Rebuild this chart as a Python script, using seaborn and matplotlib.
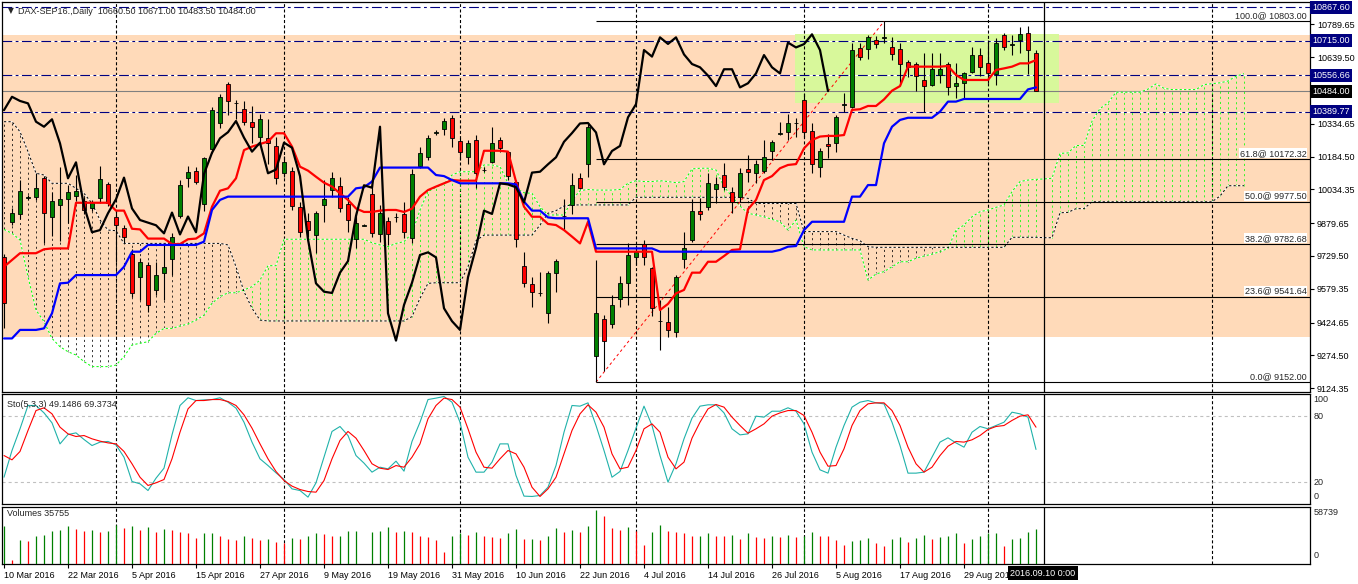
import numpy as np
import pandas as pd
import seaborn as sns
import matplotlib
matplotlib.use("Agg")
import matplotlib.pyplot as plt
import matplotlib.transforms as mtrans
from matplotlib.patches import Rectangle

# DAX-SEP16 daily bars, 10 Mar 2016 .. 9 Sep 2016
opens = [9726, 9886, 9921, 9996, 9998, 10088, 9906, 9961, 9989, 10005,
         9980, 9947, 9993, 10059, 9909, 9859, 9737, 9632, 9686, 9572,
         9650, 9716, 9912, 10085, 10120, 9967, 10217, 10336, 10515, 10430,
         10400, 10344, 10275, 10268, 10234, 10108, 10120, 9955, 9889, 9825,
         9963, 10031, 10051, 9966, 9805, 9868, 10011, 9828, 9889, 9908,
         9920, 9810, 10143, 10181, 10292, 10310, 10359, 10257, 10181, 10258,
         10123, 10161, 10258, 10204, 10069, 9685, 9602, 9562, 9467, 9650,
         9911, 9963, 10088, 10149, 9272, 9439, 9418, 9531, 9604, 9723,
         9783, 9676, 9433, 9426, 9380, 9714, 9803, 9935, 9952, 10034,
         10100, 10024, 10001, 10126, 10108, 10120, 10211, 10290, 10295, 10336,
         10443, 10301, 10135, 10242, 10245, 10422, 10413, 10683, 10675, 10718,
         10728, 10687, 10675, 10616, 10606, 10535, 10512, 10558, 10608, 10507,
         10520, 10573, 10649, 10611, 10562, 10741, 10697, 10718, 10748, 10660.5]
highs = [9740, 9950, 10077, 10010, 10108, 10095, 10020, 10138, 10055, 10100,
         10000, 9985, 10141, 10070, 9940, 9870, 9760, 9720, 9700, 9700,
         9780, 9833, 10077, 10141, 10135, 10184, 10410, 10470, 10527, 10445,
         10439, 10416, 10378, 10355, 10275, 10187, 10138, 9978, 9925, 9935,
         10077, 10115, 10092, 10000, 9932, 9875, 10054, 9962, 9909, 9925,
         9978, 10126, 10230, 10283, 10306, 10360, 10375, 10270, 10260, 10285,
         10135, 10321, 10275, 10211, 10077, 9746, 9635, 9657, 9660, 9714,
         9988, 10111, 10108, 10339, 9711, 9460, 9551, 9638, 9787, 9780,
         9802, 9680, 9528, 9497, 9642, 9841, 9990, 9993, 10108, 10090,
         10153, 10044, 10130, 10192, 10169, 10260, 10260, 10344, 10379, 10359,
         10474, 10336, 10222, 10290, 10375, 10474, 10703, 10706, 10741, 10735,
         10803, 10733, 10706, 10628, 10619, 10657, 10657, 10657, 10619, 10614,
         10573, 10687, 10680, 10718, 10726, 10748, 10741, 10776, 10782, 10671]
lows = [9398, 9870, 9900, 9985, 9985, 9787, 9820, 9800, 9880, 9980,
        9920, 9935, 9970, 9960, 9703, 9790, 9540, 9528, 9474, 9550,
        9530, 9642, 9902, 10047, 10060, 9937, 10200, 10315, 10375, 10355,
        10330, 10245, 10245, 10150, 10057, 10090, 9940, 9818, 9818, 9741,
        9886, 10000, 9930, 9840, 9764, 9865, 9815, 9795, 9780, 9886,
        9810, 9790, 10130, 10170, 10283, 10283, 10230, 10170, 10149, 10039,
        10115, 10153, 10207, 10077, 9772, 9589, 9497, 9545, 9424, 9566,
        9848, 9920, 10035, 10092, 9152, 9204, 9398, 9497, 9505, 9688,
        9688, 9455, 9299, 9360, 9360, 9673, 9795, 9894, 9940, 9970,
        10030, 9925, 9978, 10070, 10062, 10108, 10168, 10283, 10260, 10275,
        10275, 10111, 10092, 10176, 10207, 10390, 10405, 10626, 10629, 10680,
        10706, 10626, 10512, 10550, 10486, 10390, 10507, 10520, 10466, 10451,
        10446, 10568, 10553, 10520, 10512, 10672, 10649, 10657, 10562, 10483.5]
closes = [9513, 9925, 10028, 9998, 10039, 9925, 9980, 9992, 10024, 10028,
          9940, 9970, 10080, 9970, 9871, 9818, 9561, 9700, 9505, 9641,
          9680, 9818, 10054, 10115, 10070, 10176, 10397, 10458, 10439, 10428,
          10344, 10321, 10355, 10245, 10085, 10158, 9958, 9838, 9848, 9925,
          9989, 10088, 9947, 9894, 9882, 9870, 9833, 9928, 9828, 9910,
          9838, 10105, 10202, 10268, 10296, 10347, 10271, 10207, 10248, 10108,
          10125, 10248, 10225, 10095, 9805, 9604, 9566, 9560, 9653, 9706,
          9913, 10053, 10042, 10321, 9467, 9342, 9505, 9607, 9734, 9746,
          9723, 9490, 9431, 9391, 9632, 9767, 9937, 9922, 10062, 10057,
          10044, 9975, 10111, 10115, 10149, 10181, 10252, 10292, 10336, 10338,
          10295, 10149, 10210, 10233, 10364, 10424, 10672, 10642, 10730, 10700,
          10730, 10652, 10608, 10593, 10555, 10507, 10584, 10584, 10501, 10520,
          10565, 10649, 10593, 10565, 10706, 10684, 10699, 10744, 10672, 10484]
volumes = [38500, 4100, 24500, 23200, 28300, 29600, 33400, 34700, 38500, 35800,
           33400, 35100, 32300, 33400, 40200, 36800, 38500, 34700, 37500, 32300,
           35800, 35100, 32300, 31300, 26600, 31700, 31800, 28300, 25500, 24500,
           28300, 26200, 24500, 25500, 22100, 21500, 26200, 25500, 28300, 31700,
           30600, 28300, 28600, 33400, 33700, 400, 32300, 33400, 37500, 32300,
           33400, 33000, 28900, 27200, 24500, 11900, 28300, 31300, 30000, 32300,
           28900, 27200, 26200, 31300, 35800, 25500, 25900, 24500, 28300, 36400,
           32300, 34700, 32300, 38500, 55200, 48700, 36400, 34700, 37500, 33400,
           19400, 32300, 40200, 33400, 32300, 32000, 28300, 28600, 31300, 28900,
           28600, 29300, 25500, 31300, 27200, 26900, 28900, 27200, 30000, 27200,
           28300, 32300, 28900, 28600, 24500, 19700, 23200, 24500, 26200, 21100,
           18000, 25500, 27200, 22100, 26200, 30000, 25500, 27200, 28300, 31300,
           21100, 25500, 28300, 31300, 31700, 18000, 25500, 26200, 32300, 35755]

# Ichimoku lines as drawn on the chart
tenkan = [9680, 9711, 9742, 9742, 9742, 9760, 9764, 9764, 9764, 9973,
          9973, 9973, 9973, 9973, 9937, 9937, 9854, 9851, 9809, 9809,
          9809, 9784, 9784, 9806, 9809, 9833, 9955, 10028, 10039, 10085,
          10214, 10230, 10242, 10253, 10291, 10291, 10230, 10138, 10120, 10092,
          10065, 10047, 10016, 9986, 9947, 9931, 9931, 9937, 9940, 9940,
          9931, 9946, 10001, 10031, 10047, 10062, 10077, 10074, 10074, 10074,
          10211, 10211, 10211, 10207, 10070, 9955, 9909, 9909, 9876, 9871,
          9848, 9818, 9787, 9886, 9749, 9749, 9749, 9749, 9749, 9749,
          9749, 9749, 9482, 9510, 9558, 9574, 9653, 9653, 9703, 9703,
          9729, 9757, 9760, 9943, 9986, 10077, 10095, 10131, 10146, 10150,
          10222, 10260, 10276, 10279, 10279, 10283, 10398, 10401, 10416, 10416,
          10446, 10486, 10507, 10596, 10596, 10596, 10596, 10596, 10599, 10558,
          10535, 10535, 10535, 10535, 10581, 10588, 10596, 10611, 10611, 10626]
kijun = ([9352] * 2 + [9391] * 3 + [9398, 9467, 9604, 9607] + [9642] * 6 + [9680]
         + [9749] * 2 + [9780] * 7 + [9795, 9940, 9986] + [10001] * 16
         + [10039, 10044, 10070] + [10134] * 7 + [10100, 10095, 10077] + [10062] * 7
         + [10057, 9978] + [9937] * 2 + [9906] + [9902] * 5 + [9764] * 8 + [9749] * 15
         + [9757, 9772, 9775, 9848] + [9886] * 5 + [10001] * 2 + [10054] * 2
         + [10245, 10321, 10352] + [10362] * 4 + [10390] + [10436] * 2 + [10448] * 8
         + [10492, 10501])
span_a = [9851, 9833, 9803, 9635, 9482, 9429, 9352, 9314, 9291, 9276,
          9246, 9223, 9223, 9223, 9230, 9269, 9322, 9330, 9337, 9375,
          9398, 9398, 9409, 9418, 9436, 9459, 9513, 9543, 9561, 9561,
          9574, 9589, 9619, 9685, 9685, 9806, 9806, 9806, 9806, 9806,
          9806, 9806, 9806, 9806, 9806, 9806, 9790, 9780, 9772, 9787,
          9795, 9833, 9940, 10024, 10044, 10059, 10100, 10115, 10115, 10115,
          10146, 10146, 10138, 10062, 10039, 10019, 10016, 9955, 9917, 9917,
          9917, 9986, 10028, 10034, 10031, 10031, 10031, 10034, 10062, 10074,
          10070, 10070, 10074, 10070, 10065, 10070, 10128, 10131, 10131, 10123,
          10047, 10001, 9958, 9925, 9917, 9909, 9897, 9886, 9848, 9894,
          9772, 9757, 9757, 9757, 9757, 9757, 9757, 9757, 9619, 9647,
          9658, 9680, 9703, 9703, 9719, 9729, 9738, 9749, 9764, 9848,
          9871, 9909, 9932, 9940, 9952, 9963, 10024, 10070, 10077, 10080,
          10082, 10085, 10199, 10201, 10235, 10235, 10346, 10404, 10430, 10479,
          10479, 10479, 10479, 10493, 10517, 10497, 10491, 10491, 10491, 10491,
          10514, 10518, 10522, 10530, 10552, 10564]
span_b = ([10344, 10344, 10298, 10207, 10108, 10100, 10062, 10062, 10062, 10039,
           10016, 9970, 9894, 9848, 9845] + [9787] * 13 + [9780, 9680, 9566, 9490, 9436]
          + [9432] * 18 + [9452, 9536, 9604] + [9607] * 4 + [9680, 9799] + [9825] * 7
          + [9871, 9925, 9937, 9958] + [9963] * 8 + [9998] * 14 + [9993] + [9970] * 6
          + [9841] * 5 + [9825, 9810, 9799, 9772] + [9769] * 17 + [9815] * 4
          + [9813, 9813, 9927, 9929, 9946, 9946] + [9977.5] * 16
          + [10003.5, 10051, 10051, 10051])

# Stochastic (5,3,3)
stoch_k = [23.9, 48.2, 67.9, 89.1, 89.1, 82.4, 73.3, 54.2, 62.7, 64.2,
           58.2, 52.7, 55.8, 56.4, 53.3, 42.1, 20.0, 17.9, 11.8, 23.0,
           32.1, 62.4, 89.1, 96.1, 93.6, 94.2, 94.5, 96.1, 92.1, 86.7,
           73.9, 55.8, 40.6, 34.5, 27.9, 21.8, 13.3, 11.8, 5.8, 18.8,
           42.1, 65.5, 70.0, 61.8, 43.6, 36.7, 28.5, 33.0, 31.5, 38.5,
           29.4, 56.4, 73.9, 94.5, 95.8, 97.3, 92.1, 73.9, 42.1, 28.5,
           28.5, 37.6, 54.2, 54.2, 25.5, 6.7, 6.4, 7.3, 14.8, 34.5,
           64.8, 89.1, 88.5, 91.5, 70.9, 48.2, 23.9, 29.1, 48.2, 68.5,
           88.5, 70.9, 43.6, 19.4, 36.1, 58.8, 77.6, 88.5, 89.7, 89.7,
           82.4, 67.9, 62.4, 63.3, 79.4, 78.5, 83.9, 83.9, 87.0, 83.9,
           72.4, 46.7, 30.6, 27.6, 51.2, 70.9, 87.6, 92.1, 93.6, 91.5,
           90.6, 73.9, 52.7, 27.6, 27.6, 28.5, 42.1, 55.8, 59.7, 55.1,
           51.2, 64.8, 70.0, 67.9, 70.9, 73.9, 83.0, 81.5, 78.5, 49.1486]
stoch_d = [43.6, 39.7, 47.3, 66.4, 84.5, 87.0, 81.5, 69.4, 63.3, 60.9,
           61.8, 58.8, 56.7, 55.1, 54.2, 47.3, 36.1, 23.9, 16.4, 18.8,
           21.8, 40.6, 64.8, 86.0, 93.6, 93.6, 94.5, 94.5, 92.7, 89.1,
           80.6, 68.5, 54.2, 40.6, 29.1, 20.9, 15.8, 12.7, 10.9, 10.3,
           20.9, 40.6, 57.3, 65.5, 59.4, 48.2, 36.1, 32.1, 30.9, 34.5,
           33.0, 42.1, 54.2, 77.0, 89.1, 95.8, 94.5, 87.6, 67.9, 46.7,
           33.0, 32.1, 40.6, 48.2, 45.1, 33.0, 14.8, 6.4, 13.3, 23.9,
           45.1, 66.4, 81.5, 89.7, 83.0, 69.4, 45.1, 31.5, 33.0, 48.2,
           67.9, 72.4, 64.8, 42.1, 31.5, 37.6, 59.4, 73.9, 86.0, 90.0,
           87.6, 78.5, 70.9, 63.9, 67.9, 72.4, 79.4, 82.4, 84.5, 84.5,
           80.0, 64.8, 46.7, 33.9, 34.5, 49.7, 70.9, 84.5, 90.6, 91.5,
           91.5, 84.5, 70.9, 51.2, 36.1, 28.5, 33.0, 43.6, 52.1, 56.4,
           55.8, 57.9, 61.8, 67.3, 70.0, 70.9, 75.5, 79.4, 80.6, 69.3734]

tick_labels = ["10 Mar 2016", "22 Mar 2016", "5 Apr 2016", "15 Apr 2016", "27 Apr 2016",
               "9 May 2016", "19 May 2016", "31 May 2016", "10 Jun 2016", "22 Jun 2016",
               "4 Jul 2016", "14 Jul 2016", "26 Jul 2016", "5 Aug 2016", "17 Aug 2016",
               "29 Aug 2016"]
month_starts = [14, 35, 57, 79, 100, 123, 151]

# chart objects
hlines_navy = [10867.60, 10715.00, 10556.66, 10389.77]
fib_pct = [100.0, 61.8, 50.0, 38.2, 23.6, 0.0]
fib_levels = [10803.00, 10172.32, 9977.50, 9782.68, 9541.64, 9152.00]
price_ticks = [10789.65, 10639.50, 10334.65, 10184.50, 10034.35, 9879.65,
               9729.50, 9579.35, 9424.65, 9274.50, 9124.35]
last_price = 10484.00

W, H = 1358, 584


def box(x0, y0, x1, y1):
    return [x0 / W, 1 - y1 / H, (x1 - x0) / W, (y1 - y0) / H]


sns.set_style("white")
plt.rcParams['font.family'] = ['Liberation Sans', 'DejaVu Sans']
plt.rcParams['lines.scale_dashes'] = False
FS = 6.5

fig = plt.figure(figsize=(W / 100, H / 100), dpi=100)
ax = fig.add_axes(box(2, 2, 1310, 392))
ax_sto = fig.add_axes(box(2, 393.5, 1310, 503.5))
ax_vol = fig.add_axes(box(2, 506.5, 1310, 564))

n = len(closes)
bars = np.arange(n)
XMIN, XMAX = -0.25, 163.25

for a in (ax, ax_sto, ax_vol):
    a.set_xlim(XMIN, XMAX)
    a.set_facecolor('white')
    for s in a.spines.values():
        s.set_color('black')
        s.set_linewidth(0.9)
    a.tick_params(left=False, labelleft=False, bottom=False, labelbottom=False)
    for m in month_starts:
        a.axvline(m, color='black', lw=0.8, ls=(0, (2.2, 1.6)), zorder=1)
    a.axvline(130, color='black', lw=0.9, zorder=7)

# ---- main price panel ----
ax.set_ylim(9106.8, 10891.9)
ax.axhspan(9358.6, 10740.8, color='#FFDAB9', lw=0, zorder=0)
ax.add_patch(Rectangle((98.9, 10429.6), 33.0, 315.8, facecolor='#D8F89B',
                       edgecolor='none', zorder=0.5))
for lvl in hlines_navy:
    ax.axhline(lvl, color='white', lw=0.8, zorder=1)
    ax.axhline(lvl, color='#000080', lw=0.8, ls=(0, (7, 2.5, 2, 2.5)), zorder=1.1)
ax.axhline(last_price, color='#808080', lw=0.8, zorder=1)

# cloud: dotted hatching between the two spans
sa = np.array(span_a, dtype=float)
sb = np.array(span_b, dtype=float)
cx = np.arange(len(sa))
hcol = np.where(sa > sb, '#00FF00', 'black')
lo, hi = np.minimum(sa, sb), np.maximum(sa, sb)
ax.vlines(cx, lo, hi, colors=hcol, lw=0.55, linestyles=[(0, (1.5, 2.2))], zorder=2.1)
for vals, col in ((sa, '#00FF00'), (sb, 'black')):
    ax.plot(cx, vals, color='white', lw=0.7, zorder=2.2)
    sns.lineplot(x=cx, y=vals, ax=ax, color=col, lw=0.7, linestyle=(0, (1.6, 1.6)),
                 estimator=None, sort=False, legend=False, zorder=2.3)

# fibonacci
ax.hlines(fib_levels, 74, XMAX, color='black', lw=0.8, zorder=3)
for pct, lvl in zip(fib_pct, fib_levels):
    ax.annotate(f"{pct:.1f}@ {lvl:.2f}", xy=(162.8, lvl), xytext=(0, 1),
                textcoords='offset points', ha='right', va='bottom', fontsize=FS,
                bbox=dict(fc='white', ec='none', pad=0.3), zorder=3.5)
ax.plot([74, 110], [fib_levels[-1], fib_levels[0]], color='red', lw=0.7,
        ls=(0, (2, 2)), zorder=3)

# candles
o, h, l, c = (np.array(v, dtype=float) for v in (opens, highs, lows, closes))
up = c >= o
ax.vlines(bars, l, h, color='black', lw=0.8, zorder=4)
ax.bar(bars, np.maximum(np.abs(c - o), 2), bottom=np.minimum(o, c), width=0.62,
       color=np.where(up, '#008000', '#FF0000'), edgecolor='black', lw=0.6, zorder=5)

# tenkan / kijun / chikou
sns.lineplot(x=bars, y=tenkan, ax=ax, color='red', lw=1.6, estimator=None,
             sort=False, legend=False, zorder=6)
sns.lineplot(x=bars, y=kijun, ax=ax, color='blue', lw=1.6, estimator=None,
             sort=False, legend=False, zorder=6)
sns.lineplot(x=bars[:n - 26], y=c[26:], ax=ax, color='black', lw=1.6,
             estimator=None, sort=False, legend=False, zorder=6)

ax.yaxis.tick_right()
ax.set_yticks(price_ticks)
ax.set_yticklabels([f"{v:.2f}" for v in price_ticks])
ax.tick_params(axis='y', right=True, labelright=True, length=3, width=0.8,
               labelsize=FS, pad=2, colors='black')
ax.set_xlabel('')
ax.set_ylabel('')
trans = mtrans.blended_transform_factory(ax.transAxes, ax.transData)
for lvl, fc in [(v, '#000080') for v in hlines_navy] + [(last_price, 'black')]:
    ax.text(1.0018, lvl, f"{lvl:.2f}", transform=trans, ha='left', va='center',
            fontsize=FS, color='white', clip_on=False, zorder=10,
            bbox=dict(boxstyle='square,pad=0.22', fc=fc, ec='none'))

# ---- stochastic panel ----
ax_sto.set_ylim(0, 100)
for lv in (80, 20):
    ax_sto.axhline(lv, color='#C0C0C0', lw=0.8, ls=(0, (2.2, 2.2)), zorder=1)
sns.lineplot(x=bars, y=stoch_k, ax=ax_sto, color='#20B2AA', lw=0.8,
             estimator=None, sort=False, legend=False, zorder=3)
sns.lineplot(x=bars, y=stoch_d, ax=ax_sto, color='red', lw=0.8,
             estimator=None, sort=False, legend=False, zorder=3)
ax_sto.set_xlabel('')
ax_sto.set_ylabel('')
tr_s = mtrans.blended_transform_factory(ax_sto.transAxes, ax_sto.transData)
for lab, yv in (("100", 95), ("80", 79.5), ("20", 19.5), ("0", 6.8)):
    ax_sto.text(1.0025, yv, lab, transform=tr_s, ha='left', va='center',
                fontsize=FS, clip_on=False)
ax_sto.text(0.004, 0.9, f"Sto(5,3,3) {stoch_k[-1]:.4f} {stoch_d[-1]:.4f}",
            transform=ax_sto.transAxes, fontsize=FS, va='center')

# ---- volume panel ----
vol = np.array(volumes, dtype=float)
vcol = np.where(np.diff(vol, prepend=0) > 0, '#008000', '#FF0000')
ax_vol.set_ylim(0, 58739)
ax_vol.vlines(bars, 0, vol, colors=vcol, lw=0.9, zorder=3)
tr_v = mtrans.blended_transform_factory(ax_vol.transAxes, ax_vol.transData)
ax_vol.text(1.0025, 53100, "58739", transform=tr_v, ha='left', va='center',
            fontsize=FS, clip_on=False)
ax_vol.text(1.0025, 8200, "0", transform=tr_v, ha='left', va='center',
            fontsize=FS, clip_on=False)
ax_vol.text(0.004, 0.87, f"Volumes {volumes[-1]}", transform=ax_vol.transAxes,
            fontsize=FS, va='center')
ax_vol.set_xticks(np.arange(0, 8 * len(tick_labels), 8))
ax_vol.set_xticklabels(tick_labels, ha='left')
ax_vol.tick_params(axis='x', bottom=True, labelbottom=True, length=3, width=0.8,
                   labelsize=FS, pad=2, colors='black')

# title and cursor label
fig.text(8 / W, 1 - 11 / H, "\u25bc", fontsize=5.5, va='center', family='DejaVu Sans')
fig.text(18 / W, 1 - 11 / H, "DAX-SEP16.,Daily  10660.50 10671.00 10483.50 10484.00",
         fontsize=FS, va='center')
fig.text(1043 / W, 1 - 573 / H, "2016.09.10 0:00", ha='center', va='center',
         fontsize=FS, color='white',
         bbox=dict(boxstyle='square,pad=0.25', fc='black', ec='none'))

fig.savefig('out.png', dpi=100)
